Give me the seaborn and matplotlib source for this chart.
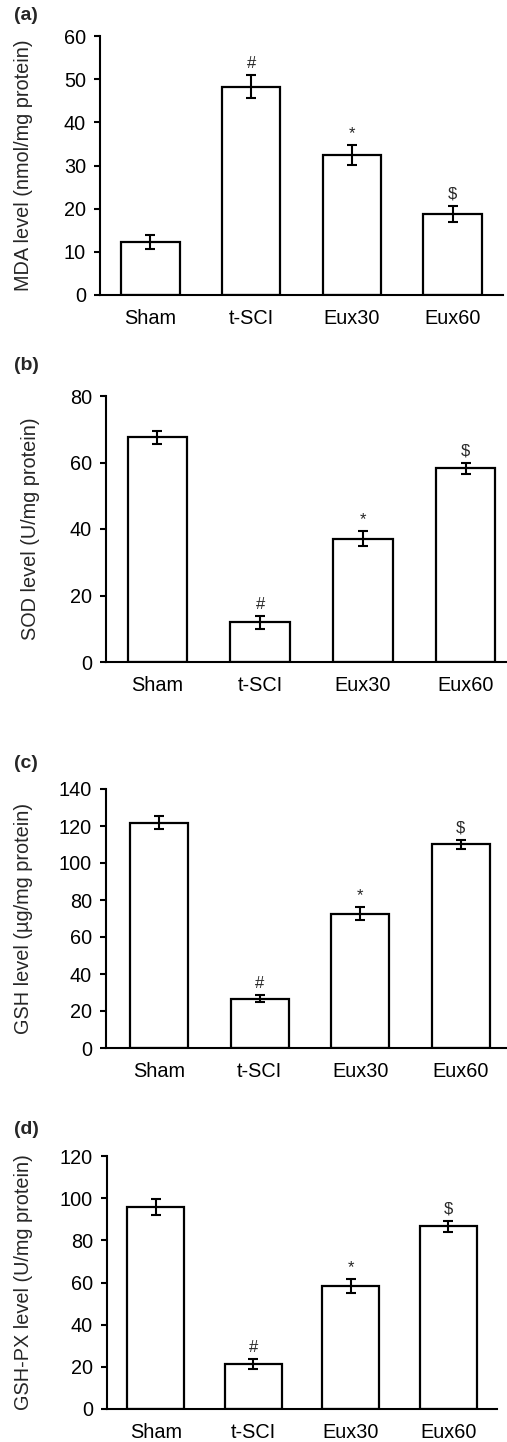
import matplotlib
matplotlib.use("Agg")
import matplotlib.pyplot as plt
import seaborn as sns
import pandas as pd

sns.set_style("white")
plt.rcParams['font.family'] = ['Liberation Sans', 'DejaVu Sans']

groups = ["Sham", "t-SCI", "Eux30", "Eux60"]
marks = ["", "#", "*", "$"]

mda_mean = [12.2, 48.3, 32.4, 18.8]
mda_err = [1.6, 2.7, 2.3, 1.9]
sod_mean = [67.6, 11.9, 37.1, 58.2]
sod_err = [2.0, 1.9, 2.2, 1.7]
gsh_mean = [121.8, 26.6, 72.5, 110.1]
gsh_err = [3.6, 1.9, 3.5, 2.5]
gpx_mean = [95.8, 21.3, 58.2, 86.6]
gpx_err = [4.0, 2.2, 3.4, 2.6]

panels = [
    dict(tag="(a)", mean=mda_mean, err=mda_err, ylabel="MDA level (nmol/mg protein)",
         ymax=60, step=10, box=(100, 36, 503, 295), xlim=(-0.5, 3.5), tagy=15, labx=33),
    dict(tag="(b)", mean=sod_mean, err=sod_err, ylabel="SOD level (U/mg protein)",
         ymax=80, step=20, box=(106, 396, 517, 662), xlim=(-0.5, 3.5), tagy=365, labx=40),
    dict(tag="(c)", mean=gsh_mean, err=gsh_err, ylabel="GSH level (\u00b5g/mg protein)",
         ymax=140, step=20, box=(106, 789, 511, 1048), xlim=(-0.53, 3.5), tagy=763, labx=33),
    dict(tag="(d)", mean=gpx_mean, err=gpx_err, ylabel="GSH-PX level (U/mg protein)",
         ymax=120, step=20, box=(107, 1156, 497, 1409), xlim=(-0.5, 3.5), tagy=1130, labx=33),
]

W, H = 507, 1442
fig = plt.figure(figsize=(W / 100, H / 100), dpi=100)
fig.patch.set_facecolor("white")

for p in panels:
    l, t, r, b = p["box"]
    ax = fig.add_axes([l / W, 1 - b / H, (r - l) / W, (b - t) / H])
    df = pd.DataFrame({"group": groups, "value": p["mean"]})
    sns.barplot(data=df, x="group", y="value", ax=ax, color="white",
                edgecolor="black", linewidth=1.6, width=0.58, errorbar=None, saturation=1)
    ax.errorbar(range(len(groups)), p["mean"], yerr=p["err"], fmt="none",
                ecolor="black", elinewidth=1.5, capsize=3.5, capthick=1.5)
    for i, (m, e, s) in enumerate(zip(p["mean"], p["err"], marks)):
        if s:
            ax.annotate(s, (i, m + e), xytext=(0, 3), textcoords="offset points",
                        ha="center", va="bottom", fontsize=12)
    ax.set_xlim(*p["xlim"])
    ax.set_ylim(0, p["ymax"])
    ax.set_yticks(range(0, p["ymax"] + 1, p["step"]))
    ax.set_xlabel("")
    ax.set_ylabel(p["ylabel"], fontsize=14.3)
    ax.yaxis.set_label_coords((p["labx"] - l) / (r - l), 0.5)
    for sp in ["top", "right"]:
        ax.spines[sp].set_visible(False)
    for sp in ["left", "bottom"]:
        ax.spines[sp].set_color("black")
        ax.spines[sp].set_linewidth(1.5)
    ax.tick_params(axis="y", direction="out", length=4, width=1.5, pad=6,
                   labelsize=14.3, left=True, colors="black")
    ax.tick_params(axis="x", length=0, pad=10, labelsize=14.3, colors="black")
    ax.set_facecolor("white")
    fig.text(14 / W, 1 - p["tagy"] / H, p["tag"], fontsize=14, fontweight="bold",
             ha="left", va="center")

fig.savefig("out.png", dpi=100, facecolor="white")
